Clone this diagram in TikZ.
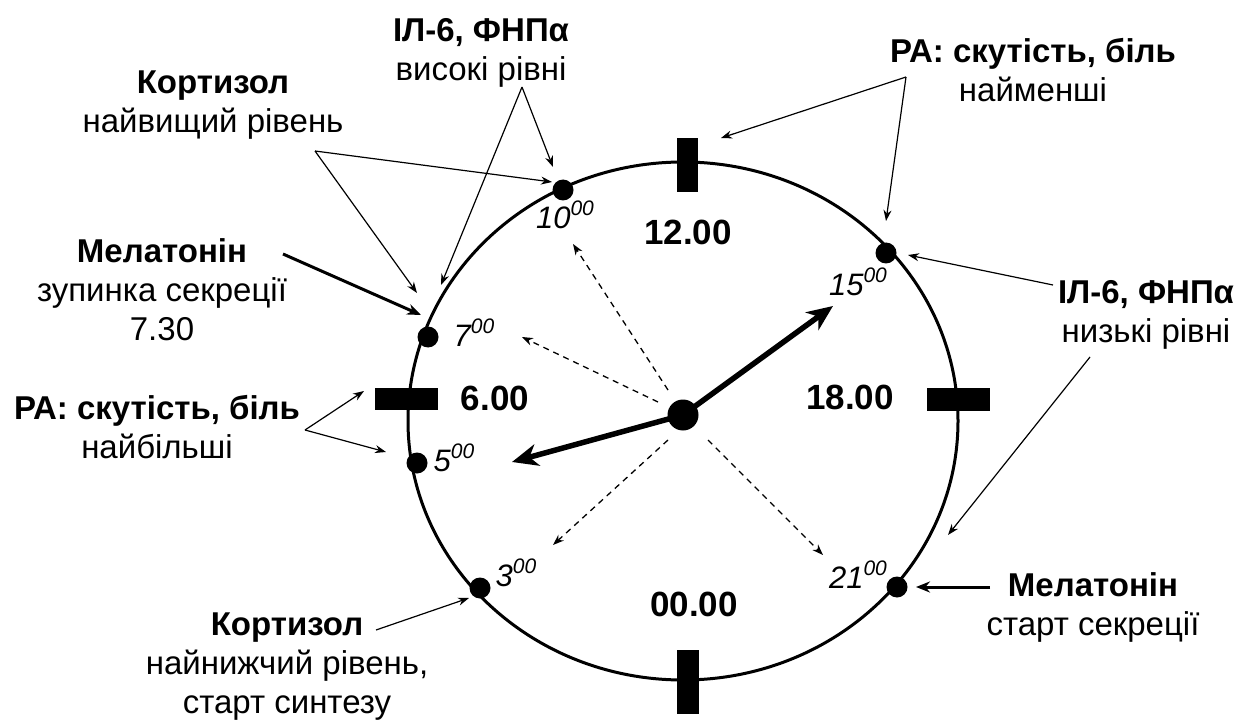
\documentclass[tikz,border=0pt]{standalone}
\usepackage{fontspec}
\setmainfont{Liberation Sans}
\usetikzlibrary{arrows.meta}
\newcommand\hourlbl[1]{#1\raisebox{0.42em}{\fontsize{21}{21}\selectfont 00}}
\begin{document}
\begin{tikzpicture}[x=1pt,y=-1pt,
  lbl/.style={font=\fontsize{33}{39}\selectfont, align=center, inner sep=0pt, anchor=base},
  clocknum/.style={font=\bfseries\fontsize{35}{35}\selectfont, inner sep=0pt},
  hourtxt/.style={font=\itshape\fontsize{31}{31}\selectfont, inner sep=0pt},
  tickbar/.style={fill=black, draw=none, inner sep=0pt, rectangle},
  dotc/.style={circle, fill=black, inner sep=0pt, minimum size=21pt},
  thinarrow/.style={-{Stealth[length=11pt,width=8pt]}, line width=1.2pt},
  thickarrow/.style={-{Stealth[length=14pt,width=11pt]}, line width=3pt},
  hand/.style={-{Stealth[length=26pt,width=22pt,inset=8pt]}, line width=5.5pt},
  dasharrow/.style={-{Stealth[length=11pt,width=8pt]}, line width=1.3pt, dash pattern=on 6pt off 5pt}
]
\useasboundingbox (0,0) rectangle (1240,722);

% dial
\draw[line width=3pt] (683,421) ellipse [x radius=275, y radius=259];
\node[tickbar, minimum width=21pt, minimum height=54pt] (t12) at (687.5,165) {};
\node[tickbar, minimum width=22pt, minimum height=64pt] (t00) at (688,682) {};
\node[tickbar, minimum width=63pt, minimum height=22pt] (t6) at (406.5,399) {};
\node[tickbar, minimum width=63pt, minimum height=23pt] (t18) at (958.5,399.5) {};

% clock numbers
\node[clocknum] (n12) at (688,232) {12.00};
\node[clocknum] (n6) at (495,398) {6.00};
\node[clocknum] (n18) at (850,397) {18.00};
\node[clocknum] (n00) at (694,604) {00.00};

% hour dots
\node[dotc] (d10) at (563,190) {};
\node[dotc] (d15) at (886,253) {};
\node[dotc] (d7) at (428,337) {};
\node[dotc] (d5) at (417,463) {};
\node[dotc] (d3) at (480,588) {};
\node[dotc] (d21) at (897,587) {};

% hour labels
\node[hourtxt] (h10) at (565,215) {\hourlbl{10}};
\node[hourtxt] (h15) at (858,282) {\hourlbl{15}};
\node[hourtxt] (h7) at (474,333) {\hourlbl{7}};
\node[hourtxt] (h5) at (454,458) {\hourlbl{5}};
\node[hourtxt] (h3) at (516,573) {\hourlbl{3}};
\node[hourtxt] (h21) at (858,575) {\hourlbl{21}};

% dashed arrows
\coordinate (s10) at (668,390); \coordinate (e10) at (573,244);
\coordinate (s7) at (658,402);  \coordinate (e7) at (522,337);
\coordinate (s3) at (668,440);  \coordinate (e3) at (553,545);
\coordinate (s21) at (708,440); \coordinate (e21) at (823,555);
\draw[dasharrow] (s10) -- (e10);
\draw[dasharrow] (s7) -- (e7);
\draw[dasharrow] (s3) -- (e3);
\draw[dasharrow] (s21) -- (e21);

% hands
\coordinate (hourtip) at (512,462);
\coordinate (mintip) at (833,306);
\coordinate (hc) at (683,415);
\draw[hand] (hc) -- (hourtip);
\draw[hand] (hc) -- (mintip);
\node[circle, fill=black, inner sep=0pt, minimum size=31pt] (hub) at (683,415) {};

% annotation texts (anchor = baseline of the last line)
\node[lbl] (ilhi) at (481,81) {\textbf{ІЛ-6, ФНПα}\\високі рівні};
\node[lbl] (korthi) at (213,133) {\textbf{Кортизол}\\найвищий рівень};
\node[lbl] (melstop) at (162,340) {\textbf{Мелатонін}\\зупинка секреції\\7.30};
\node[lbl] (rahi) at (157,458) {\textbf{РА: скутість, біль}\\найбільші};
\node[lbl] (ralo) at (1033,102) {\textbf{РА: скутість, біль}\\найменші};
\node[lbl] (illo) at (1146,342) {\textbf{ІЛ-6, ФНПα}\\низькі рівні};
\node[lbl] (melstart) at (1093,635) {\textbf{Мелатонін}\\старт секреції};
\node[lbl] (kortlo) at (287,713) {\textbf{Кортизол}\\найнижчий рівень,\\старт синтезу};

% connectors
\coordinate (v1) at (315,151);
\coordinate (v2) at (522,87);
\coordinate (v4) at (305,430);
\coordinate (v5) at (906,77);
\coordinate (a1) at (552,182);
\coordinate (a2) at (417,293);
\coordinate (a3) at (553,167);
\coordinate (a4) at (441,285);
\coordinate (a5) at (364,391);
\coordinate (a6) at (386,452);
\coordinate (a7) at (721,138);
\coordinate (a8) at (886,221);
\coordinate (a9) at (908,255);
\coordinate (a10) at (948,535);
\coordinate (a11) at (916,587);
\coordinate (a12) at (469,598);
\coordinate (a13) at (421,315);
\coordinate (b1) at (283,254);
\coordinate (b2) at (1053,285);
\coordinate (b3) at (1090,357);
\coordinate (b4) at (990,587);
\coordinate (b5) at (376,630);

\draw[thinarrow] (v1) -- (a1);
\draw[thinarrow] (v1) -- (a2);
\draw[thinarrow] (v2) -- (a3);
\draw[thinarrow] (v2) -- (a4);
\draw[thickarrow] (b1) -- (a13);
\draw[thinarrow] (v4) -- (a5);
\draw[thinarrow] (v4) -- (a6);
\draw[thinarrow] (v5) -- (a7);
\draw[thinarrow] (v5) -- (a8);
\draw[thinarrow] (b2) -- (a9);
\draw[thinarrow] (b3) -- (a10);
\draw[thickarrow] (b4) -- (a11);
\draw[thinarrow] (b5) -- (a12);
\end{tikzpicture}
\end{document}
